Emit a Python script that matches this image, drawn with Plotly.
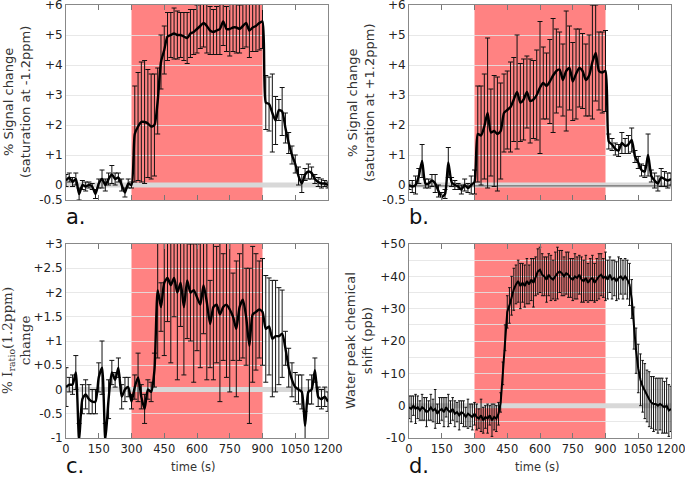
import numpy as np
import plotly.graph_objects as go

# ---------------- data ----------------
t15 = list(range(0, 1201, 15))
t10 = list(range(0, 1201, 10))

a_val = [0.15, 0.25, 0.1, 0.2, -0.3, 0.0, -0.05, 0.0, -0.05, -0.3, 0.05, 0.2, 0.0, 0.2, 0.35, 0.2, 0.25, 0.0, -0.25, 0.05, 0.0,
         1.7, 1.95, 2.1, 2.1, 2.05, 1.95, 2.0, 2.8, 4.1, 4.5, 4.95, 5.0, 5.05, 5.0, 5.0, 4.95, 4.9, 5.05, 5.1, 5.2,
         5.3, 5.4, 5.3, 5.15, 5.1, 5.15, 5.2, 5.45, 5.2, 5.2, 5.25, 5.25, 5.2, 5.3, 5.4, 5.15, 5.25, 5.3, 5.4, 5.45,
         2.75, 2.7, 2.4, 2.15, 2.5, 2.45, 1.9, 1.4, 1.0, 0.7, 0.3, 0.05, 0.35, 0.45, 0.4, 0.2, 0.1, 0.05, 0.05, 0.0]
a_err = [0.2, 0.15, 0.15, 0.2, 0.2, 0.15, 0.15, 0.1, 0.1, 0.15, 0.15, 0.3, 0.2, 0.2, 0.3, 0.2, 0.15, 0.2, 0.15, 0.15, 0.1,
         1.6, 1.8, 2.0, 2.05, 1.8, 1.75, 1.7, 1.1,
         0.9, 0.8, 0.8, 0.75, 0.85, 0.8, 0.75, 0.8, 0.85, 0.8, 0.75, 0.8, 0.75, 0.8, 0.9, 0.8, 0.75, 0.8, 0.85, 0.8,
         0.75, 0.9, 0.8, 0.85, 0.8, 0.75, 0.8, 0.9, 0.8, 0.85, 0.9, 0.9,
         0.9, 0.9, 1.3, 0.8, 0.35, 0.8, 0.5, 0.35, 0.3, 0.3, 0.3, 0.3, 0.2, 0.25, 0.2, 0.15, 0.15, 0.15, 0.1, 0.1]

b_val = [0.0, -0.05, 0.0, 0.3, 0.8, 0.05, 0.05, 0.15, 0.05, -0.2, -0.4, -0.3, 0.75, 0.1, 0.0, -0.05, -0.15, 0.0, -0.1, 0.0, 0.1,
         1.7, 1.65, 1.95, 2.4, 1.75, 1.8, 1.7, 1.8, 2.4, 2.5, 2.6, 2.85, 3.1, 2.75, 2.85, 3.1, 2.8, 2.85, 3.0, 3.25,
         3.4, 3.3, 3.45, 3.65, 3.8, 3.85, 3.5, 3.8, 3.9, 3.45, 3.7, 3.9, 3.8, 3.5, 3.65, 4.1, 4.4, 3.8, 3.75, 3.8,
         1.45, 1.35, 1.2, 1.15, 1.4, 1.3, 1.35, 1.5, 0.95, 0.75, 0.5, 0.45, 1.0, 0.3, 0.15, 0.05, 0.25, 0.2, 0.15, 0.2]
b_err = [0.15, 0.2, 0.3, 0.25, 0.55, 0.15, 0.15, 0.2, 0.3, 0.2, 0.15, 0.15, 0.5, 0.15, 0.15, 0.1, 0.15, 0.2, 0.15, 0.3, 0.4,
         1.6, 1.65, 1.75, 2.5, 1.45, 1.85, 1.9, 1.6, 1.3, 1.3, 1.5, 1.4, 1.9, 1.3, 1.35, 1.2, 1.4, 1.3, 1.5, 2.2,
         1.2, 1.1, 1.4, 1.9, 1.4, 1.25, 1.2, 2.0, 1.4, 1.3, 1.5, 1.3, 1.25, 1.2, 1.35, 1.9, 1.6, 1.3, 1.35, 1.35,
         0.25, 0.2, 0.2, 0.2, 0.35, 0.25, 0.3, 0.4, 0.2, 0.2, 0.2, 0.2, 0.7, 0.2, 0.25, 0.25, 0.3, 0.25, 0.25, 0.2]

c_val = [0.05, 0.1, 0.1, 0.35, -1.05, -0.2, -0.1, -0.2, -0.25, -0.25, 0.25, 0.45, -1.05, -0.2, 0.35, 0.2, 0.45, -0.15, 0.0, 0.05, -0.25,
         0.05, 0.25, -0.15, -0.4, 0.0, -0.05, 0.4, 2.05, 1.7, 2.2, 2.3, 2.15, 2.3, 2.0, 2.2, 1.7, 2.25, 2.0, 2.05, 1.9,
         1.75, 2.15, 1.8, 1.35, 1.7, 1.75, 1.55, 1.7, 1.75, 1.65, 1.5, 1.25, 1.7, 1.85, 1.5, 0.9, 1.55, 1.6, 1.65, 1.6,
         1.25, 1.3, 1.05, 1.1, 1.1, 1.15, 0.85, 0.45, 0.2, 0.05, 0.0, -0.05, -0.75, -0.05, 0.0, 0.4, -0.15, -0.2, -0.15, -0.25]
c_err = [0.4, 0.15, 0.2, 0.35, 0.35, 0.3, 0.3, 0.3, 0.25, 0.25, 0.3, 0.55, 0.35, 0.4, 0.25, 0.15, 0.2, 0.25, 0.25, 0.2, 0.15,
         0.25, 0.5, 0.25, 0.3, 0.2, 0.2, 0.35, 1.4, 0.5, 1.5, 0.9, 1.6, 0.8, 1.8, 0.9, 1.4, 1.2, 1.0, 1.9, 1.1,
         1.3, 1.0, 1.6, 0.9, 1.5, 1.2, 1.8, 1.1, 1.5, 1.7, 0.9, 1.4, 1.1, 1.2, 1.0, 1.6, 1.4, 1.2, 1.0, 1.1,
         1.1, 1.0, 1.2, 1.15, 1.0, 0.9, 0.35, 0.4, 0.35, 0.3, 0.3, 0.35, 0.3, 0.25, 0.3, 0.25, 0.2, 0.2, 0.2, 0.2]

d_val = [-0.5, -1.0, 0.0, -1.0, -0.5, -1.5, -0.5, -1.0, -2.0, -1.5,
         -0.5, -1.5, -1.0, -2.5, -1.5, -1.0, -2.0, -0.5, -1.5, -2.0,
         -1.0, -2.5, -2.0, -3.0, -2.0, -2.5, -3.5, -2.5, -3.0, -3.5,
         -2.5, -3.5, -4.0, -3.0, -4.5, -3.5, -4.0, -3.0, -4.5, -3.5,
         -4.0, -2.5, 1.0, 10.0, 21.0, 29.0, 31.0, 34.0, 36.0, 37.5,
         38.5, 37.0, 38.0, 37.0, 38.5, 37.5, 39.0, 38.0, 40.0, 41.5,
         42.0, 40.5, 40.0, 39.0, 40.5, 39.5, 39.0, 40.0, 41.0, 41.5,
         41.0, 40.0, 41.0, 40.5, 39.5, 39.0, 40.0, 39.5, 40.5, 39.0,
         38.5, 39.5, 38.0, 39.0, 39.5, 38.0, 39.0, 40.0, 40.5, 39.5,
         40.0, 39.0, 40.5, 39.0, 39.5, 38.5, 39.5, 40.0, 39.0, 40.0,
         39.0, 37.5, 33.0, 24.0, 17.0, 11.5, 8.0, 6.0, 4.5, 3.0,
         2.0, 1.0, 0.5, 0.5, 0.0, 0.5, 0.0, -0.5, 0.0, -1.5,
         -1.0]
d_err = [3.5, 4.0, 3.0, 4.5, 3.5, 3.0, 4.0, 3.5, 4.5, 3.0,
         4.0, 3.5, 6.0, 3.0, 4.0, 3.5, 4.5, 3.0, 5.0, 3.5,
         3.5, 4.0, 3.0, 4.5, 3.5, 4.0, 3.0, 4.5, 3.5, 4.0,
         3.5, 4.0, 3.0, 5.0, 4.0, 3.5, 4.5, 3.0, 5.0, 4.0,
         4.0, 3.5, 3.0, 3.5, 4.0, 5.0, 5.5, 6.0, 6.5, 6.0,
         6.5, 7.0, 6.0, 6.5, 7.0, 6.0, 6.5, 7.5, 6.0, 7.0,
         7.0, 6.5, 6.0, 7.0, 6.5, 7.0, 6.0, 7.5, 8.0, 6.5,
         7.0, 6.0, 6.5, 7.0, 6.0, 6.5, 7.0, 6.5, 6.0, 7.0,
         6.5, 7.0, 6.0, 6.5, 7.0, 6.0, 6.5, 7.0, 6.5, 6.0,
         7.5, 6.0, 5.5, 6.0, 5.5, 6.0, 6.5, 5.5, 6.0, 5.5,
         6.0, 6.5, 6.0, 6.5, 7.0, 7.5, 8.0, 8.0, 8.5, 8.0,
         8.5, 8.0, 8.5, 8.0, 8.5, 8.0, 8.5, 8.0, 8.5, 8.0,
         7.0]

stim_start, stim_end = 300, 900
x_ticks = [0, 150, 300, 450, 600, 750, 900, 1050, 1200]
ab_ticks = [-0.5, 0, 1, 2, 3, 4, 5, 6]
ab_text = ["-0.5", "0", "+1", "+2", "+3", "+4", "+5", "+6"]
c_ticks = [-1, -0.5, 0, 0.5, 1, 1.5, 2, 2.5, 3]
c_text = ["-1", "-0.5", "0", "+0.5", "+1", "+1.5", "+2", "+2.5", "+3"]
d_ticks = [-10, 0, 10, 20, 30, 40, 50]
d_text = ["-10", "0", "+10", "+20", "+30", "+40", "+50"]
d_minor = [-5, 5, 15, 25, 35, 45]

# ---------------- figure ----------------
W, H = 685, 477
fig = go.Figure()

panels = [
    ("x", "y", t15, a_val, a_err, 2.4, 2.5),
    ("x2", "y2", t15, b_val, b_err, 2.4, 2.5),
    ("x3", "y3", t15, c_val, c_err, 2.4, 2.5),
    ("x4", "y4", t10, d_val, d_err, 2.0, 1.3),
]
for xa, ya, tt, vv, ee, lw, cw in panels:
    fig.add_trace(go.Scatter(x=[0, 1200], y=[0, 0], xaxis=xa, yaxis=ya, mode="lines",
                             line=dict(color="#d8d8d8", width=5), hoverinfo="skip", showlegend=False))
    if xa == "x2":
        fig.add_trace(go.Scatter(x=[0, 1200], y=[-0.03, -0.03], xaxis=xa, yaxis=ya, mode="lines",
                                 line=dict(color="#555555", width=1), hoverinfo="skip", showlegend=False))
    fig.add_trace(go.Scatter(x=tt, y=vv, xaxis=xa, yaxis=ya, mode="lines",
                             line=dict(color="black", width=lw, shape="spline" if xa != "x4" else "linear",
                                       smoothing=0.6),
                             error_y=dict(type="data", array=ee, visible=True, color="#111111",
                                          thickness=1, width=cw),
                             showlegend=False))
    fig.add_shape(type="rect", xref=xa, yref=ya + " domain", x0=stim_start, x1=stim_end, y0=0, y1=1,
                  fillcolor="#ff8282", line=dict(width=0), layer="below")

xd_left = [66 / W, 328 / W]
xd_right = [409 / W, 671 / W]
yd_top = [1 - 200 / H, 1 - 5 / H]
yd_bot = [1 - 438 / H, 1 - 244 / H]

grid_c = "rgba(228,228,228,0.85)"
tick_font = dict(family="DejaVu Sans", size=12, color="#222222")
xtick_font = dict(family="DejaVu Sans", size=11.5, color="#222222")


def xaxis(domain, anchor, labels):
    return dict(domain=domain, anchor=anchor, range=[0, 1200], tickvals=x_ticks,
                ticktext=[str(v) for v in x_ticks], showticklabels=labels, tickangle=0,
                ticks="inside", ticklen=5, tickcolor="#777777", mirror="ticks",
                showline=True, linecolor="#888888", linewidth=1, showgrid=False,
                zeroline=False, tickfont=xtick_font, automargin=False, ticklabeloverflow="allow")


def yaxis(domain, anchor, rng, tv, tt, minor=None):
    d = dict(domain=domain, anchor=anchor, range=rng, tickvals=tv, ticktext=tt,
             ticks="", mirror=True, showline=True, linecolor="#888888", linewidth=1,
             showgrid=True, gridcolor=grid_c, gridwidth=1.2, zeroline=False, tickfont=tick_font,
             automargin=False, ticklabeloverflow="allow")
    if minor:
        d["minor"] = dict(tickvals=minor, showgrid=True, gridcolor=grid_c, gridwidth=1.2, ticks="")
    return d


fig.update_layout(
    width=W, height=H, margin=dict(l=0, r=0, t=0, b=0, autoexpand=False),
    paper_bgcolor="white", plot_bgcolor="white",
    xaxis=xaxis(xd_left, "y", False),
    yaxis=yaxis(yd_top, "x", [-0.5, 6], ab_ticks, ab_text),
    xaxis2=xaxis(xd_right, "y2", False),
    yaxis2=yaxis(yd_top, "x2", [-0.5, 6], ab_ticks, ab_text),
    xaxis3=xaxis(xd_left, "y3", True),
    yaxis3=yaxis(yd_bot, "x3", [-1, 3], c_ticks, c_text),
    xaxis4=xaxis(xd_right, "y4", True),
    yaxis4=yaxis(yd_bot, "x4", [-10, 50], d_ticks, d_text, d_minor),
)

title_font = dict(family="DejaVu Sans", size=13, color="#333333")
serif_font = dict(family="DejaVu Serif", size=13.5, color="#333333")
ann = [
    dict(text="% Signal change<br>(saturation at -1.2ppm)", x=17 / W, y=1 - 102 / H, font=title_font, textangle=-90),
    dict(text="% Signal change<br>(saturation at +1.2ppm)", x=361 / W, y=1 - 102 / H, font=title_font, textangle=-90),
    dict(text="% I<sub>ratio</sub>(1.2ppm)<br>change", x=16 / W, y=1 - 341 / H, font=serif_font, textangle=-90),
    dict(text="Water peak chemical<br>shift (ppb)", x=359 / W, y=1 - 341 / H, font=title_font, textangle=-90),
    dict(text="time (s)", x=193 / W, y=1 - 467 / H, font=dict(family="DejaVu Sans", size=11.5, color="#333333")),
    dict(text="time (s)", x=537 / W, y=1 - 467 / H, font=dict(family="DejaVu Sans", size=11.5, color="#333333")),
]
for a in ann:
    fig.add_annotation(xref="paper", yref="paper", showarrow=False, xanchor="center", yanchor="middle", **a)

for lab, px, py in [("a.", 64, 217), ("b.", 407, 217), ("c.", 64, 466), ("d.", 407, 466)]:
    fig.add_annotation(text=lab, xref="paper", yref="paper", x=px / W, y=1 - py / H, showarrow=False,
                       xanchor="left", yanchor="middle", font=dict(family="DejaVu Sans", size=21, color="#111111"))

fig.write_html("out.html", config={"displayModeBar": False},
               post_script="document.body.style.margin='0';")
